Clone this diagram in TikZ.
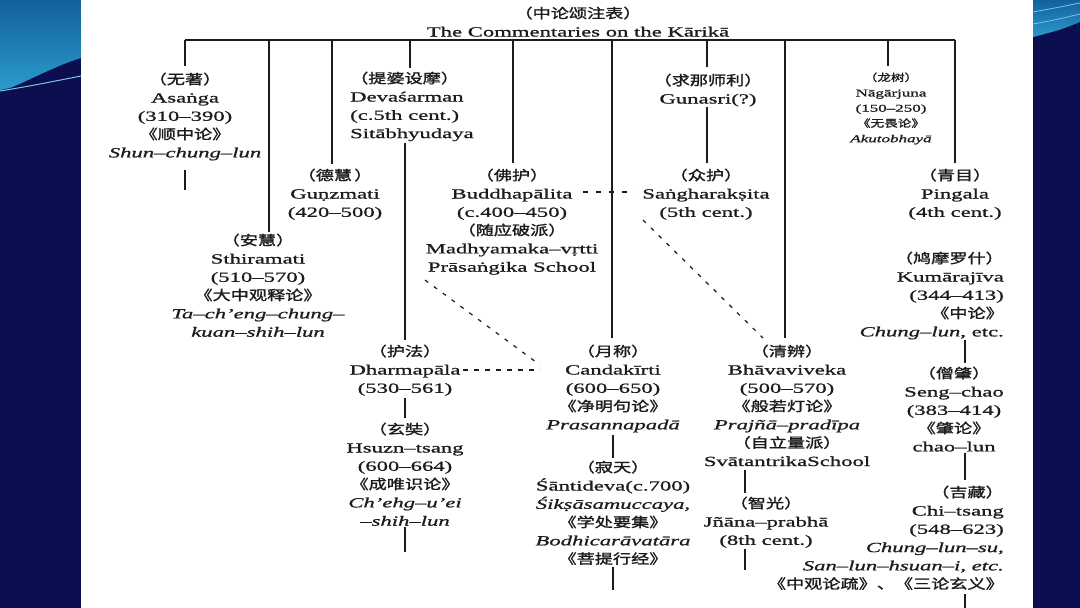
\documentclass[tikz,border=0pt]{standalone}
\usepackage{fontspec}
\setmainfont[FakeStretch=1.62,FakeBold=1.0]{Liberation Serif}
\newfontfamily\zhcf[FakeStretch=1.35,Scale=0.96,FakeBold=1.6]{Noto Sans CJK SC}
\usetikzlibrary{calc}
\definecolor{ink}{HTML}{1C1C1C}
\definecolor{navy}{HTML}{0B0E4F}
\definecolor{skyA}{HTML}{14609C}
\definecolor{skyB}{HTML}{2A9BCB}
\definecolor{skyL}{HTML}{7DC3E8}
\newcommand\zc[1]{{\zhcf #1}}
\newcommand\mainsz{\fontsize{14}{18.3}\selectfont}
\newcommand\smallsz{\fontsize{10.5}{15.25}\selectfont}
\newcommand\zs{\rule{0pt}{13pt}}
\newcommand\zss{\rule{0pt}{11pt}}
\tikzset{
  ent/.style={align=center, inner sep=0pt, anchor=north, font=\mainsz, text=ink},
  conn/.style={draw=ink, line width=1.3pt},
  dsh/.style={draw=ink, line width=1.2pt, dash pattern=on 4pt off 7pt},
}
\begin{document}
\begin{tikzpicture}[x=1pt,y=-1pt]
\useasboundingbox (0,0) rectangle (1080,608);
% slide background
\fill[navy] (0,0) rectangle (1080,608);
\shade[top color=skyA, bottom color=skyB] (0,0) -- (81,0) -- (81,58) .. controls (55,66) and (30,80) .. (10,88) -- (0,90) -- cycle;
\draw[skyL, line width=1pt] (0,91) .. controls (30,86) .. (81,76);
\shade[top color=skyA, bottom color=skyB] (1033,0) -- (1080,0) -- (1080,22) .. controls (1060,30) .. (1033,37) -- cycle;
\draw[skyL, line width=0.8pt] (1033,12) .. controls (1055,8) .. (1080,3);
\draw[skyL, line width=0.8pt] (1033,24) .. controls (1055,20) .. (1080,14);
\fill[white] (81,0) rectangle (1033,608);

% title
\node[ent] (title) at (578,5) {\zs\zc{（中论颂注表）}\\The Commentaries on the Kārikā};

% top bar coordinates
\coordinate (t1) at (185,40);
\coordinate (t2) at (269,40);
\coordinate (t3) at (332,40);
\coordinate (t4) at (410,40);
\coordinate (t5) at (513,40);
\coordinate (t6) at (612,40);
\coordinate (t7) at (707,40);
\coordinate (t8) at (785,40);
\coordinate (t9) at (888,40);
\coordinate (t10) at (955,40);
\coordinate (jx) at (745,0);
\coordinate (rx) at (965,0);

% nodes
\node[ent] (asanga) at (185,71) {\zs\zc{（无著）}\\Asaṅga\\(310–390)\\\zc{《顺中论》}\\\textit{Shun–chung–lun}};
\node[ent] (sthiramati) at (258,232) {\zs\zc{（安慧）}\\Sthiramati\\(510–570)\\\zc{《大中观释论》}\\\textit{Ta–ch'eng–chung–}\\\textit{kuan–shih–lun}};
\node[ent] (gunzmati) at (335,167) {\zs\zc{（德慧\,）}\\Guṇzmati\\(420–500)};
\node[ent, anchor=north west, align=left] (devasarman) at (350,70) {\zs\zc{（提婆设摩）}\\Devaśarman\\(c.5th cent.)\\Sitābhyudaya};
\node[ent] (buddhapalita) at (512,167) {\zs\zc{（佛护）}\\Buddhapālita\\(c.400–450)\\\zc{（随应破派）}\\Madhyamaka–vṛtti\\Prāsaṅgika School};
\node[ent] (gunasri) at (708,72) {\zs\zc{（求那师利）}\\Gunasri(?)};
\node[ent] (sangharaksita) at (706,167) {\zs\zc{（众护）}\\Saṅgharakṣita\\(5th cent.)};
\node[ent, font=\smallsz] (nagarjuna) at (891,70) {\zss\zc{（龙树）}\\Nāgārjuna\\(150–250)\\\zc{《无畏论》}\\\textit{Akutobhayā}};
\node[ent] (pingala) at (955,167) {\zs\zc{（青目）}\\Pingala\\(4th cent.)};
\node[ent, anchor=north east, align=right] (kumarajiva) at (1004,250) {\zs\zc{（鸠摩罗什）}\\Kumārajīva\\(344–413)\\\zc{《中论》}\\\textit{Chung–lun}, etc.};
\node[ent] (sengchao) at (954,365) {\zs\zc{（僧肇）}\\Seng–chao\\(383–414)\\\zc{《肇论》}\\chao–lun};
\node[ent, anchor=north east, align=right] (chitsang) at (1004,484) {\zs\zc{（吉藏）}\\Chi–tsang\\(548–623)\\\textit{Chung–lun–su,}\\\textit{San–lun–hsuan–i, etc.}\\\zc{《中观论疏》、《三论玄义》}};
\node[ent] (dharmapala) at (405,343) {\zs\zc{（护法）}\\Dharmapāla\\(530–561)};
\node[ent] (hsuantsang) at (405,421) {\zs\zc{（玄奘）}\\Hsuzn–tsang\\(600–664)\\\zc{《成唯识论》}\\\textit{Ch'ehg–u'ei}\\\textit{–shih–lun}};
\node[ent] (candakirti) at (613,343) {\zs\zc{（月称）}\\Candakīrti\\(600–650)\\\zc{《净明句论》}\\\textit{Prasannapadā}};
\node[ent] (santideva) at (613,459) {\zs\zc{（寂天）}\\Śāntideva(c.700)\\\textit{Śikṣāsamuccaya,}\\\zc{《学处要集》}\\\textit{Bodhicarāvatāra}\\\zc{《菩提行经》}};
\node[ent] (bhavaviveka) at (787,343) {\zs\zc{（清辨）}\\Bhāvaviveka\\(500–570)\\\zc{《般若灯论》}\\\textit{Prajñā–pradīpa}\\\zc{（自立量派）}\\SvātantrikaSchool};
\node[ent] (jnanaprabha) at (766,495) {\zs\zc{（智光）}\\Jñāna–prabhā\\(8th cent.)};

% stub end coordinates
\coordinate (asangaEnd) at (185,190);
\coordinate (hsEnd) at (405,552);
\coordinate (sdEnd) at (613,590);
\coordinate (jEnd) at (745,570);
\coordinate (ctEnd) at (965,608);

% solid connectors
\draw[conn] (t1) -- (t10);
\draw[conn, shorten >=5pt] (t1) -- (t1 |- asanga.north);
\draw[conn] (t2) -- (t2 |- sthiramati.north);
\draw[conn, shorten >=3pt] (t3) -- (t3 |- gunzmati.north);
\draw[conn, shorten >=2pt] (t4) -- (t4 |- devasarman.north);
\draw[conn, shorten >=4pt] (t5) -- (t5 |- buddhapalita.north);
\draw[conn, shorten >=5pt] (t6) -- (t6 |- candakirti.north);
\draw[conn, shorten >=5pt] (t7) -- (t7 |- gunasri.north);
\draw[conn, shorten >=5pt] (t8) -- (t8 |- bhavaviveka.north);
\draw[conn, shorten >=4pt] (t9) -- (t9 |- nagarjuna.north);
\draw[conn, shorten >=4pt] (t10) -- (t10 |- pingala.north);

\draw[conn, shorten <=9pt] (asanga.south) -- (asangaEnd);
\draw[conn, shorten <=2pt, shorten >=3pt] (devasarman.south -| dharmapala.north) -- (dharmapala.north);
\draw[conn, shorten <=2pt, shorten >=3pt] (dharmapala.south) -- (hsuantsang.north);
\draw[conn, shorten <=1pt] (hsuantsang.south) -- (hsEnd);
\draw[conn, shorten >=4pt] (t7 |- gunasri.south) -- (t7 |- sangharaksita.north);
\draw[conn, shorten <=2pt, shorten >=1pt] (candakirti.south) -- (santideva.north);
\draw[conn, shorten <=2pt] (santideva.south) -- (sdEnd);
\draw[conn, shorten <=4pt, shorten >=2pt] (jx |- bhavaviveka.south) -- (jx |- jnanaprabha.north);
\draw[conn, shorten <=1pt] (jx |- jnanaprabha.south) -- (jEnd);
\draw[conn, shorten >=2pt] (rx |- kumarajiva.south) -- (rx |- sengchao.north);
\draw[conn, shorten <=1pt, shorten >=4pt] (rx |- sengchao.south) -- (rx |- chitsang.north);
\draw[conn, shorten <=4pt] (rx |- chitsang.south) -- (ctEnd);

% dashed connectors
\coordinate (bdR) at (583,192);
\coordinate (sgL) at (635,192);
\coordinate (bdS) at (425,280);
\coordinate (cdW) at (540,365);
\coordinate (sgS) at (643,220);
\coordinate (bvW) at (763,338);
\coordinate (dpE) at (463,370);
\coordinate (cdL) at (540,370);
\draw[dsh, dash pattern=on 5pt off 8pt] (bdR) -- (sgL);
\draw[dsh] (bdS) -- (cdW);
\draw[dsh] (sgS) -- (bvW);
\draw[dsh, dash pattern=on 5pt off 6pt] (dpE) -- (cdL);
\end{tikzpicture}
\end{document}
